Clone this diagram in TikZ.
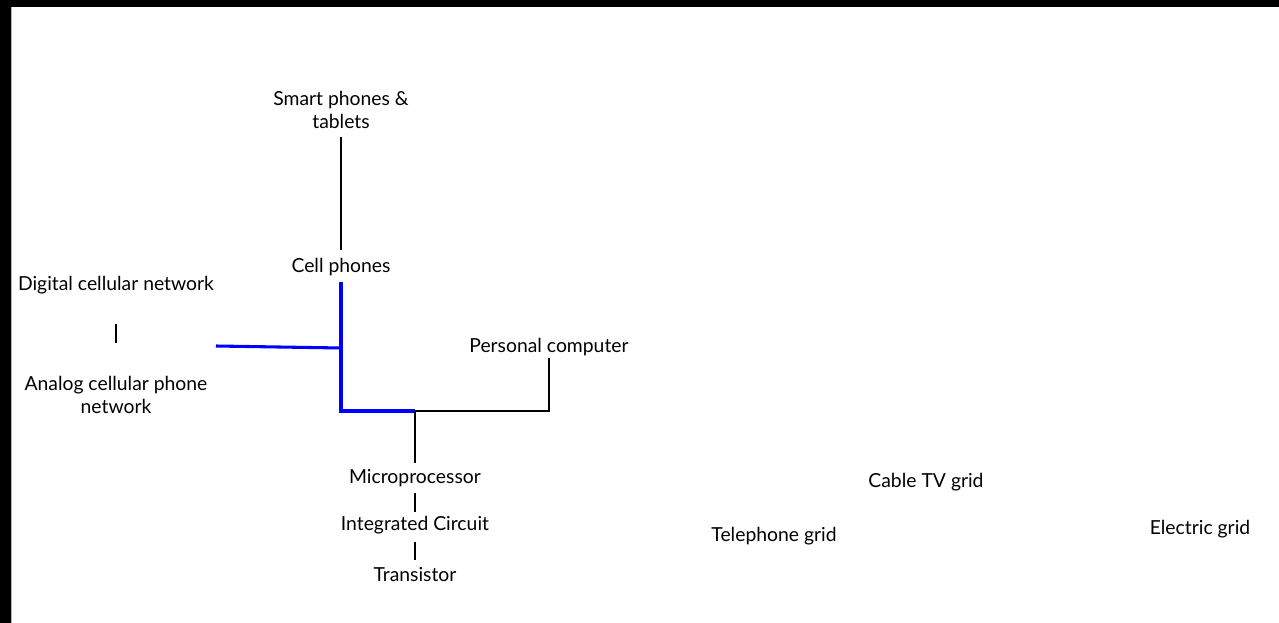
\documentclass[tikz,border=0pt]{standalone}
\usepackage{fontspec}
\setmainfont{Lato}
\begin{document}
\begin{tikzpicture}[x=0.75pt,y=-0.75pt,
  label/.style={align=center,font=\fontsize{14.5}{17}\selectfont,inner sep=2pt},
  link/.style={line width=1pt},
  bluelink/.style={line width=2.3pt,blue}]
\useasboundingbox (0,0) rectangle (1279,623);
\fill [black] (0,0) rectangle (1279,623);
\fill [white] (11,7) rectangle (1279,623);
\draw [gray!60,line width=0.6pt] (11.5,7) -- (11.5,623);

\node (smart)   at ( 341, 110) [label] {Smart phones \&\\tablets};
\node (cell)    at ( 341, 267) [label] {Cell phones};
\node (digital) at ( 116, 285) [label] {Digital cellular network};
\node (analog)  at ( 116, 395) [label] {Analog cellular phone\\network};
\node (pc)      at ( 549, 347) [label] {Personal computer};
\node (micro)   at ( 415, 478) [label] {Microprocessor};
\node (ic)      at ( 415, 525) [label] {Integrated Circuit};
\node (trans)   at ( 415, 575) [label] {Transistor};
\node (cable)   at ( 926, 482) [label] {Cable TV grid};
\node (phone)   at ( 774, 536) [label] {Telephone grid};
\node (power)   at (1200, 529) [label] {Electric grid};

\coordinate (smartbot) at (341, 137);
\coordinate (celltop) at (341, 250);
\coordinate (cellbot) at (341, 282);
\coordinate (digbot)  at (116, 324);
\coordinate (anatop)  at (116, 343);
\coordinate (cellnet) at (216, 346);
\coordinate (netjoin) at (341, 348);
\coordinate (corner)  at (341, 411);
\coordinate (chip)    at (415, 411);
\coordinate (pcbot)   at (549, 358);
\coordinate (pcjoin)  at (549, 411);
\coordinate (microtop) at (415, 463);
\coordinate (microbot) at (415, 493);
\coordinate (ictop)   at (415, 512);
\coordinate (icbot)   at (415, 542);
\coordinate (transtop) at (415, 560);

\draw [link] (smartbot) -- (celltop);
\draw [link] (digbot) -- (anatop);
\draw [bluelink] (cellbot) -- (corner) -- (chip);
\draw [bluelink] (cellnet) -- (netjoin);
\draw [link] (pcbot) -- (pcjoin) -- (chip);
\draw [link] (chip) -- (microtop);
\draw [link] (microbot) -- (ictop);
\draw [link] (icbot) -- (transtop);
\end{tikzpicture}
\end{document}
